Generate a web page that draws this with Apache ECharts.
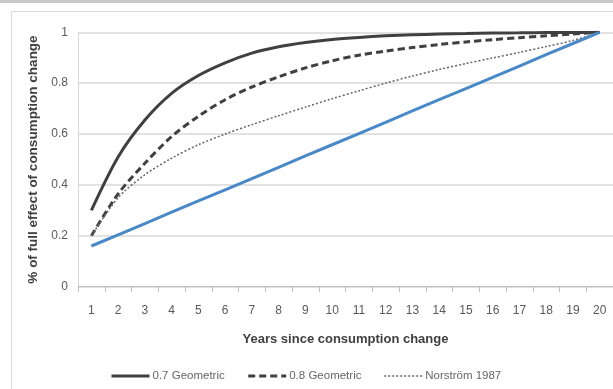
<!DOCTYPE html>
<html><head><meta charset="utf-8">
<script src="https://cdn.jsdelivr.net/npm/echarts@6/dist/echarts.min.js"></script>
<style>html,body{margin:0;padding:0;background:#fff;}#c{width:613px;height:389px;}</style>
</head><body><div id="c"></div>
<script>
const years = ['1','2','3','4','5','6','7','8','9','10','11','12','13','14','15','16','17','18','19','20'];
const geo07 = [0.30,0.51,0.655,0.76,0.83,0.88,0.918,0.943,0.96,0.972,0.98,0.986,0.99,0.993,0.995,0.997,0.998,0.999,0.999,1.0];
const geo08 = [0.20,0.365,0.485,0.59,0.67,0.735,0.785,0.825,0.86,0.888,0.91,0.926,0.94,0.952,0.962,0.971,0.979,0.986,0.993,1.0];
const norstrom = [0.20,0.35,0.44,0.505,0.558,0.60,0.637,0.672,0.706,0.739,0.77,0.80,0.828,0.854,0.877,0.899,0.921,0.944,0.968,1.0];
const linear = [0.16,0.204,0.248,0.293,0.337,0.381,0.425,0.469,0.514,0.558,0.602,0.646,0.691,0.735,0.779,0.823,0.867,0.912,0.956,1.0];
const yTicks = {min:0, max:1, interval:0.2};
const names = ['0.7 Geometric','0.8 Geometric','Norström 1987'];

const chart = echarts.init(document.getElementById('c'), null, {renderer:'canvas'});
const font = 'Liberation Sans, Arial, sans-serif';
chart.setOption({
  animation:false,
  backgroundColor:'#fff',
  graphic:[
    {type:'rect', shape:{x:0,y:0,width:613,height:3}, style:{fill:'#c8c8c8'}, silent:true},
    {type:'rect', shape:{x:11.5,y:11.5,width:620,height:400}, style:{fill:'none',stroke:'#d9d9d9',lineWidth:1}, silent:true}
  ],
  grid:{left:78, right:0, top:32.3, bottom:102.3},
  legend:{
    data:[
      {name:names[0], lineStyle:{width:3}},
      {name:names[1], lineStyle:{width:3}},
      {name:names[2], lineStyle:{width:1.5}}
    ],
    bottom:2, left:105, itemWidth:38, itemHeight:12, itemGap:22,
    itemStyle:{opacity:0},
    textStyle:{fontFamily:font, fontSize:11.5, color:'#666666', padding:[0,0,0,-2]}
  },
  xAxis:{
    type:'category', data:years, boundaryGap:true,
    name:'Years since consumption change', nameLocation:'middle', nameGap:46,
    nameTextStyle:{fontFamily:font, fontSize:13, fontWeight:'bold', color:'#404040'},
    axisLine:{lineStyle:{color:'#bfbfbf', width:1}},
    axisTick:{show:true, length:5, interval:0, lineStyle:{color:'#bfbfbf'}},
    axisLabel:{fontFamily:font, fontSize:12, color:'#595959', margin:18, interval:0}
  },
  yAxis:{
    type:'value', min:yTicks.min, max:yTicks.max, interval:yTicks.interval,
    name:'% of full effect of consumption change', nameLocation:'middle', nameGap:37, nameRotate:90,
    nameTextStyle:{fontFamily:font, fontSize:13.5, fontWeight:'bold', color:'#404040'},
    axisLine:{show:true, lineStyle:{color:'#d9d9d9'}},
    axisTick:{show:false},
    axisLabel:{fontFamily:font, fontSize:12, color:'#595959', margin:10},
    splitLine:{lineStyle:{color:'#d9d9d9', width:1.5}}
  },
  series:[
    {name:names[0], type:'line', data:geo07, symbol:'none', smooth:0.3,
     lineStyle:{color:'#404040', width:3}, itemStyle:{color:'#404040'}},
    {name:names[1], type:'line', data:geo08, symbol:'none', smooth:0.3,
     lineStyle:{color:'#404040', width:3, type:[7,4]}, itemStyle:{color:'#404040'}},
    {name:names[2], type:'line', data:norstrom, symbol:'none', smooth:0.3,
     lineStyle:{color:'#666666', width:1.5, type:[2,2]}, itemStyle:{color:'#666666'}},
    {name:'Linear', type:'line', data:linear, symbol:'none',
     lineStyle:{color:'#4a89c8', width:3}, itemStyle:{color:'#4a89c8'}}
  ]
});
</script></body></html>
